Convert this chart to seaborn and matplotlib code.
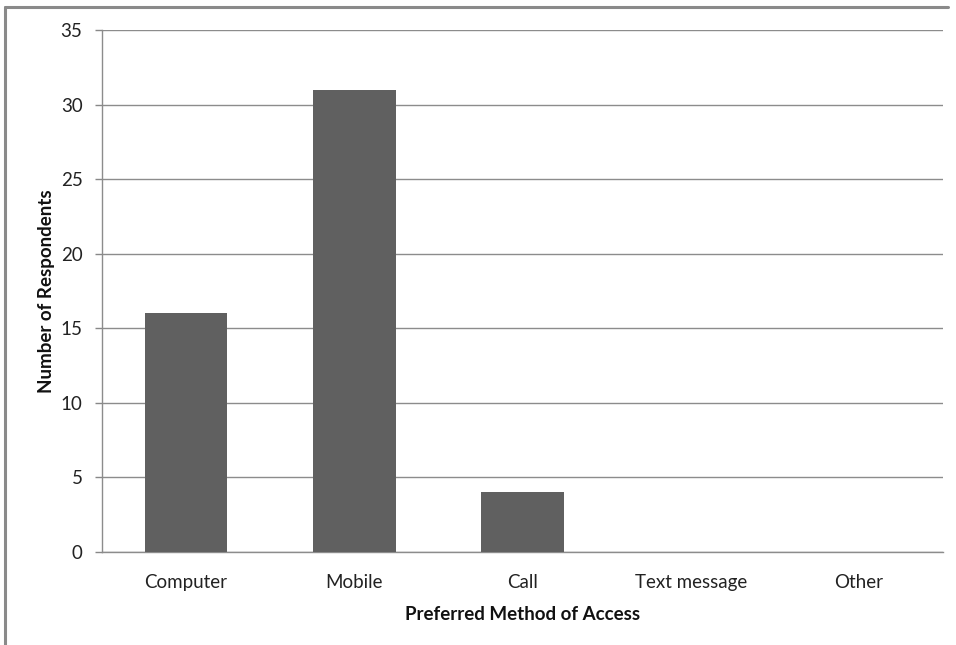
import matplotlib
matplotlib.use("Agg")
import matplotlib.pyplot as plt
import seaborn as sns
import pandas as pd
from matplotlib.lines import Line2D

methods = ["Computer", "Mobile", "Call", "Text message", "Other"]
respondents = [16, 31, 4, 0, 0]
y_ticks = [0, 5, 10, 15, 20, 25, 30, 35]

df = pd.DataFrame({"method": methods, "count": respondents})

sns.set_style("white")
plt.rcParams["font.family"] = ["Lato", "DejaVu Sans"]

fig = plt.figure(figsize=(9.56, 6.45), dpi=100)
ax = fig.add_axes([102 / 956, 1 - 552 / 645, (943 - 102) / 956, (552 - 30) / 645])

sns.barplot(data=df, x="method", y="count", color="#606060", width=0.49,
            saturation=1, linewidth=0, ax=ax, zorder=3)

ax.set_ylim(0, 35)
ax.set_yticks(y_ticks)
ax.set_yticklabels([str(v) for v in y_ticks], fontsize=13.5, color="#222222")
ax.set_xlim(-0.5, len(methods) - 0.5)
ax.tick_params(axis="x", length=0, pad=16, labelsize=13.5, labelcolor="#222222")
ax.tick_params(axis="y", length=5, width=1, color="#888888", pad=9, left=True)
ax.yaxis.grid(True, color="#8c8c8c", linewidth=1, zorder=0)
ax.set_axisbelow(True)

for side in ["top", "right"]:
    ax.spines[side].set_visible(False)
for side in ["left", "bottom"]:
    ax.spines[side].set_color("#8c8c8c")
    ax.spines[side].set_linewidth(1)

ax.set_xlabel("Preferred Method of Access", fontsize=13.5, fontweight="bold",
              color="#111111", labelpad=11)
ax.set_ylabel("Number of Respondents", fontsize=13.5, fontweight="bold",
              color="#111111", labelpad=4)

# chart frame along the upper and left edges
fx0, fy0, fx1 = 4.5 / 956, 1 - 6.5 / 645, 948 / 956
fig.add_artist(Line2D([fx0, fx1], [fy0, fy0], transform=fig.transFigure,
                      color="#8a8a8a", linewidth=2.2))
fig.add_artist(Line2D([fx0, fx0], [fy0, 0], transform=fig.transFigure,
                      color="#8a8a8a", linewidth=2.2))

fig.savefig("out.png", dpi=100)
